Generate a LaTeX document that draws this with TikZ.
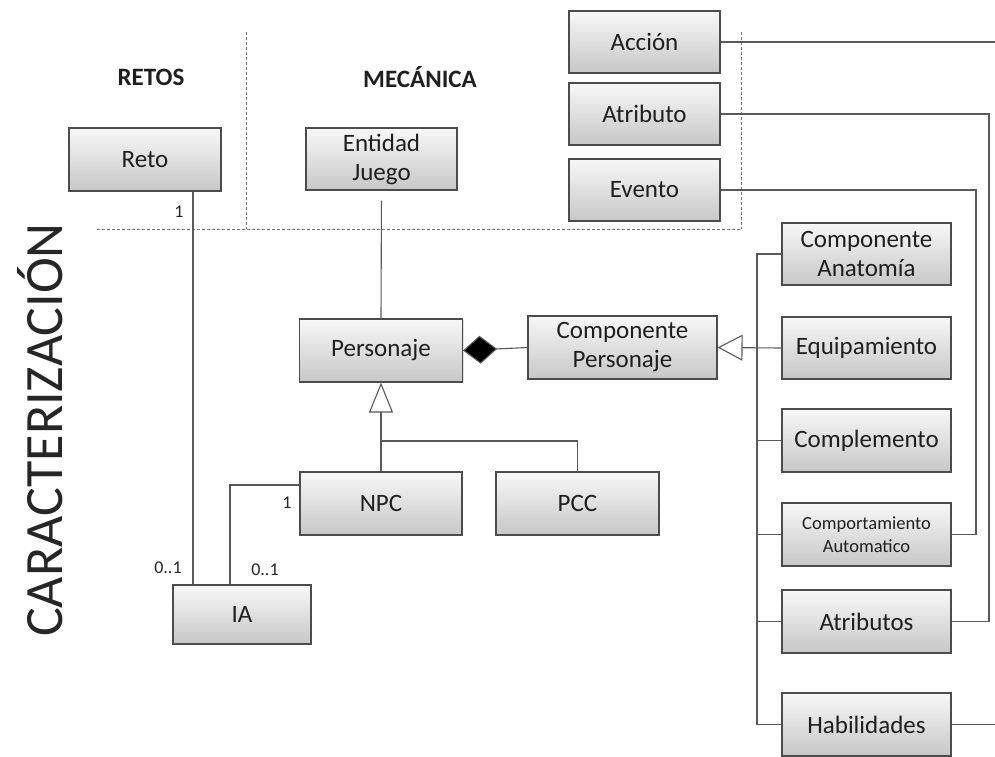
\documentclass[tikz,border=0pt]{standalone}
\usepackage{fontspec}
\setmainfont{Carlito}
\usetikzlibrary{arrows.meta,shadows}
\begin{document}
\begin{tikzpicture}[x=1pt,y=-1pt,
  cls/.style={draw=black!70, line width=1.1pt, top color=white!97!black, bottom color=black!22,
    drop shadow={shadow xshift=1.3pt,shadow yshift=-1.3pt,opacity=0.25},
    font=\fontsize{25}{29}\selectfont, text=black!88, align=center, inner sep=2pt,
    minimum width=169pt, minimum height=63pt},
  small/.style={font=\fontsize{18.5}{23}\selectfont},
  link/.style={draw=black!65, line width=1.1pt},
  guide/.style={draw=black!55, line width=0.9pt, dash pattern=on 3pt off 2pt},
  head/.style={font=\fontsize{25}{27}\selectfont\bfseries, text=black!88},
  mult/.style={font=\fontsize{18}{20}\selectfont, text=black!85},
]
\useasboundingbox (0,0) rectangle (995,756);
\clip (0,0) rectangle (995,756);

% section guides
\draw[guide] (246,32) -- (246,229);
\draw[guide] (741,32) -- (741,229);
\draw[guide] (97,229) -- (741,229);

% headings
\node[head] (hretos) at (151,77) {RETOS};
\node[head] (hmec) at (420,77) {MECÁNICA};
\node[font=\fontsize{54}{60}\selectfont, text=black!85, rotate=90] (hcar) at (40,430) {CARACTERIZACIÓN};

% classes
\node[cls, minimum width=152pt] (reto) at (145,159.5) {Reto};
\node[cls, minimum width=151pt, minimum height=62pt] (ent) at (381.5,159) {Entidad\\Juego};
\node[cls, minimum width=151pt, minimum height=62pt] (acc) at (644.5,42) {Acción};
\node[cls, minimum width=151pt, minimum height=62pt] (atr) at (644.5,114) {Atributo};
\node[cls, minimum width=151pt, minimum height=62pt] (evt) at (644.5,190) {Evento};
\node[cls, minimum width=163pt] (pers) at (381,350.5) {Personaje};
\node[cls, minimum width=189pt] (cpers) at (622.5,347.5) {Componente\\Personaje};
\node[cls, minimum width=162pt] (npc) at (381,503.5) {NPC};
\node[cls, minimum width=163pt] (pcc) at (577.5,503.5) {PCC};
\node[cls, minimum width=138pt, minimum height=59pt] (ia) at (242,614.5) {IA};
\node[cls, minimum height=62pt] (anat) at (866.5,254) {Componente\\Anatomía};
\node[cls, minimum height=62pt] (equip) at (866.5,348) {Equipamiento};
\node[cls] (compl) at (866.5,440.5) {Complemento};
\node[cls, small] (cauto) at (866.5,534.5) {Comportamiento\\Automatico};
\node[cls] (atrs) at (866.5,621.5) {Atributos};
\node[cls] (hab) at (866.5,724.5) {Habilidades};

% helper coordinates for routed connectors
\coordinate (rx) at (193,0);
\coordinate (ix) at (230,485);
\coordinate (gj) at (381,441);
\coordinate (tk) at (757,0);
\coordinate (ax) at (989,0);
\coordinate (ex) at (976,0);
\coordinate (cx) at (1010,0);

% associations
\draw[link] (rx |- reto.south) -- (rx |- ia.north);
\draw[link] (ix |- ia.north) |- (npc.west |- ix);
\draw[link, shorten <=10pt] (ent.south) -- (pers.north);

% composition
\draw[link, -{Diamond[length=34pt,width=28pt,fill=black]}] (cpers.west) -- (pers.east);

% generalisation of Personaje
\draw[link, -{Triangle[open,length=30pt,width=24pt,fill=white]}] (npc.north) -- (pers.south);
\draw[link] (pcc.north) |- (gj);

% generalisation of Componente Personaje
\draw[link, -{Triangle[open,length=25pt,width=26pt,fill=white]}] (equip.west) -- (cpers.east);
\draw[link] (anat.west) -- (tk |- anat.west) -- (tk |- hab.west) -- (hab.west);
\draw[link] (compl.west) -- (tk |- compl.west);
\draw[link] (cauto.west) -- (tk |- cauto.west);
\draw[link] (atrs.west) -- (tk |- atrs.west);

% mechanics links
\draw[link] (atr.east) -| (ax |- atrs.east) -- (atrs.east);
\draw[link] (evt.east) -| (ex |- cauto.east) -- (cauto.east);
\draw[link] (acc.east) -| (cx |- hab.east) -- (hab.east);

% multiplicities
\node[mult] (m1) at (179,212) {1};
\node[mult] (m2) at (168,568) {0..1};
\node[mult] (m3) at (265,570) {0..1};
\node[mult] (m4) at (287,503) {1};
\end{tikzpicture}
\end{document}
